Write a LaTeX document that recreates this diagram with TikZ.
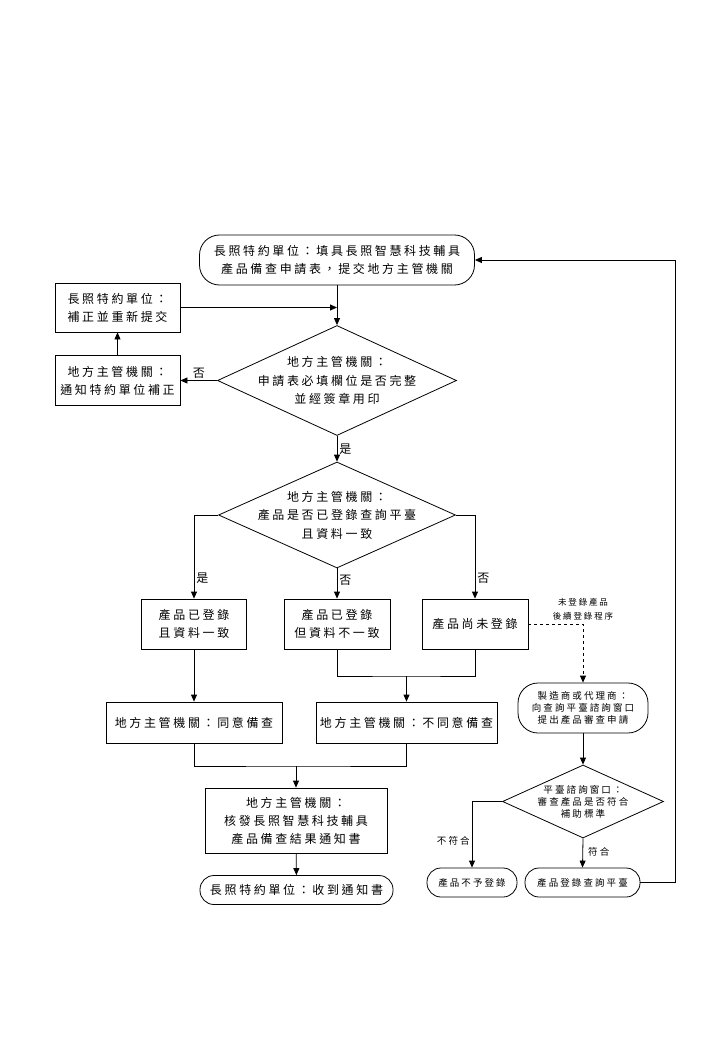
\documentclass[tikz,border=0pt]{standalone}
\usepackage{fontspec}
\newfontfamily\cjk[LetterSpace=22]{Noto Sans CJK TC}
\usepackage{tikz}
\usetikzlibrary{positioning,arrows.meta,shapes.geometric}

\begin{document}
\begin{tikzpicture}[
    x=1pt,y=-1pt,
    line width=0.8pt,
    box/.style={draw,rectangle,align=center,inner sep=0pt,font=\cjk\fontsize{12}{18}\selectfont},
    term/.style={box,rounded corners=20pt},
    smallterm/.style={box,rounded corners=14pt,font=\cjk\fontsize{9.5}{12}\selectfont},
    decision/.style={draw,diamond,inner sep=0pt},
    tag/.style={font=\cjk\fontsize{12}{14}\selectfont,inner sep=2pt},
    smalltag/.style={font=\cjk\fontsize{9.5}{12}\selectfont,inner sep=2pt,align=center},
    link/.style={-{Triangle[length=7pt,width=6pt]}},
    softlink/.style={-{Triangle[length=7pt,width=6pt]},dashed},
  ]
    \useasboundingbox (0,0) rectangle (720,1040);

    % application and completeness check
    \node[term,minimum width=275pt,minimum height=50pt] (start) at (337,260)
      {長照特約單位：填具長照智慧科技輔具\\產品備查申請表，提交地方主管機關};
    \node[decision,minimum width=239pt,minimum height=110pt] (chk1) at (337,380.5)
      [label={[align=center,font=\cjk\fontsize{12}{18.5}\selectfont]center:地方主管機關：\\申請表必填欄位是否完整\\並經簽章用印}] {};
    \node[box,minimum width=125pt,minimum height=49pt] (fix) at (117.5,307.5)
      {長照特約單位：\\補正並重新提交};
    \node[box,minimum width=125pt,minimum height=50pt] (notify) at (117.5,380.5)
      {地方主管機關：\\通知特約單位補正};

    \draw[link] (start) -- (chk1.north);
    \draw[link] (fix) -- (fix -| chk1);
    \draw[link] (chk1.west) -- (notify.east) node[tag,midway,above] (no1) {否};
    \draw[link] (notify) -- (fix);

    % registration check
    \node[decision,minimum width=237pt,minimum height=106pt] (chk2) at (337,515)
      [label={[align=center,font=\cjk\fontsize{12}{18.5}\selectfont]center:地方主管機關：\\產品是否已登錄查詢平臺\\且資料一致}] {};
    \draw[link] (chk1.south) -- (chk2.north) node[tag,midway,right] (yes1) {是};

    \node[box,minimum width=105pt,minimum height=50pt] (boxA) at (194,624) {產品已登錄\\且資料一致};
    \node[box,minimum width=106pt,minimum height=50pt] (boxB) at (337,624) {產品已登錄\\但資料不一致};
    \node[box,minimum width=106pt,minimum height=50pt] (boxC) at (475,624) {產品尚未登錄};

    \draw[link] (chk2.west) -| (boxA.north) node[tag,pos=0.88,right] (yes2) {是};
    \draw[link] (chk2.south) -- (boxB.north) node[tag,pos=0.4,right] (no2) {否};
    \draw[link] (chk2.east) -| (boxC.north) node[tag,pos=0.88,right] (no3) {否};

    \node[box,minimum width=176pt,minimum height=41pt] (agree) at (194,722.5) {地方主管機關：同意備查};
    \node[box,minimum width=181pt,minimum height=41pt] (disagree) at (406.5,722.5) {地方主管機關：不同意備查};

    \coordinate (j1) at (406.5,676);
    \draw[link] (boxA) -- (agree);
    \draw (boxB.south) |- (j1) -| (boxC.south);
    \draw[link] (j1) -- (disagree);

    % result notice
    \node[box,minimum width=182pt,minimum height=65pt] (issue) at (296,820.5)
      {地方主管機關：\\核發長照智慧科技輔具\\產品備查結果通知書};
    \node[term,minimum width=193pt,minimum height=29pt,rounded corners=14pt] (done) at (296.5,890)
      {長照特約單位：收到通知書};

    \coordinate (j2) at (296,766);
    \draw (agree.south) |- (j2) -| (disagree.south);
    \draw[link] (j2) -- (issue);
    \draw[link] (issue) -- (done);

    % unregistered products
    \node[smallterm,minimum width=130pt,minimum height=50pt,rounded corners=20pt] (apply) at (583,708)
      {製造商或代理商：\\向查詢平臺諮詢窗口\\提出產品審查申請};
    \draw[softlink] (boxC.east) -| (apply.north)
      node[pos=0.5,above=3pt,font=\cjk\fontsize{8.5}{14}\selectfont,align=center,inner sep=0pt] (later) {未登錄產品\\後續登錄程序};

    \node[decision,minimum width=161pt,minimum height=73pt] (chk3) at (583,801.5)
      [label={[align=center,font=\cjk\fontsize{9.5}{12}\selectfont]center:平臺諮詢窗口：\\審查產品是否符合\\補助標準}] {};
    \draw[link] (apply) -- (chk3.north);

    \node[smallterm,minimum width=90pt,minimum height=29pt] (reject) at (472,882.5) {產品不予登錄};
    \node[smallterm,minimum width=115pt,minimum height=29pt] (accept) at (582.5,882.5) {產品登錄查詢平臺};

    \draw[link] (chk3.west) -| (reject.north) node[smalltag,pos=0.8,left] (fail) {不符合};
    \draw[link] (chk3.south) -- (accept.north) node[smalltag,pos=0.45,right=3pt] (pass) {符合};
    \draw[link] (accept.east) -- ++(35,0) |- (start.east);
  \end{tikzpicture}
\end{document}
